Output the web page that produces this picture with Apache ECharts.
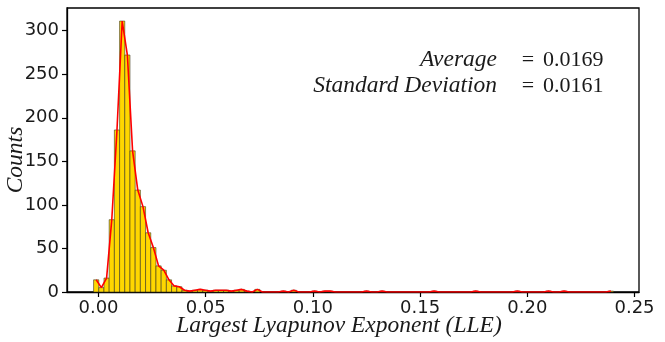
<!DOCTYPE html>
<html>
<head>
<meta charset="utf-8">
<script src="https://cdn.jsdelivr.net/npm/echarts@6/dist/echarts.min.js"></script>
<style>
  html, body { margin: 0; padding: 0; background: #fff; }
  #main { width: 665px; height: 342px; }
</style>
</head>
<body>
<div id="main"></div>
<script>
// histogram of LLE values, 100 equal bins
var binStart = -0.0023;
var binWidth = 0.002425;
var counts = [
  14, 5, 16, 83, 186, 311, 272, 162, 117, 98,
  68, 51, 30, 25, 14, 7, 6, 2, 1, 2,
  3, 2, 1, 2, 2, 2, 1, 2, 3, 1,
  0, 3, 0, 0, 0, 0, 1, 0, 2, 0,
  0, 0, 1, 0, 1, 1, 0, 0, 0, 0,
  0, 0, 1, 0, 0, 1, 0, 0, 0, 0,
  0, 0, 0, 0, 0, 1, 0, 0, 0, 0,
  0, 0, 0, 1, 0, 0, 0, 0, 0, 0,
  0, 1, 0, 0, 0, 0, 0, 1, 0, 0,
  1, 0, 0, 0, 0, 0, 0, 0, 0, 1
];
var xTicks = [0, 0.05, 0.10, 0.15, 0.20, 0.25];
var yTicks = [0, 50, 100, 150, 200, 250, 300];
var avgText = '0.0169';
var stdText = '0.0161';

var bars = [];
var line = [];
for (var i = 0; i < counts.length; i++) {
  var lo = binStart + i * binWidth;
  bars.push([lo, lo + binWidth, counts[i]]);
  line.push([lo + binWidth / 2, counts[i]]);
}

var chart = echarts.init(document.getElementById('main'), null, { renderer: 'canvas' });

var serif = '"Liberation Serif", "DejaVu Serif", serif';
var labFont = 'italic 23.5px ' + serif;
var numFont = '22px ' + serif;

var option = {
  animation: false,
  backgroundColor: '#fff',
  grid: {
    left: 67, right: 26, top: 8, bottom: 50,
    show: true,
    borderColor: '#000',
    borderWidth: 1.3,
    outerBoundsMode: 'none'
  },
  xAxis: {
    type: 'value',
    min: -0.0147,
    max: 0.2521,
    axisLine: { onZero: false, lineStyle: { color: '#000', width: 1.3 } },
    axisTick: { customValues: xTicks, length: 5, lineStyle: { color: '#000', width: 1.2 } },
    axisLabel: {
      customValues: xTicks,
      margin: 7,
      fontFamily: '"DejaVu Sans"',
      fontSize: 18,
      color: '#1a1a1a',
      formatter: function (v) { return v.toFixed(2); }
    },
    splitLine: { show: false }
  },
  yAxis: {
    type: 'value',
    min: 0,
    max: 326,
    axisLine: { show: true, onZero: false, lineStyle: { color: '#000', width: 1.3 } },
    axisTick: { show: true, customValues: yTicks, length: 5, lineStyle: { color: '#000', width: 1.2 } },
    axisLabel: {
      customValues: yTicks,
      margin: 8,
      fontFamily: '"DejaVu Sans"',
      fontSize: 18,
      color: '#1a1a1a'
    },
    splitLine: { show: false }
  },
  graphic: [
    {
      type: 'text', x: 339, y: 326,
      style: { text: 'Largest Lyapunov Exponent (LLE)', font: labFont, fill: '#1a1a1a', align: 'center', verticalAlign: 'middle' }
    },
    {
      type: 'text', x: 16, y: 160, rotation: Math.PI / 2,
      style: { text: 'Counts', font: labFont, fill: '#1a1a1a', align: 'center', verticalAlign: 'middle' }
    },
    {
      type: 'text', x: 497, y: 60,
      style: { text: 'Average', font: labFont, fill: '#1a1a1a', align: 'right', verticalAlign: 'middle' }
    },
    {
      type: 'text', x: 528, y: 60,
      style: { text: '=', font: numFont, fill: '#1a1a1a', align: 'center', verticalAlign: 'middle' }
    },
    {
      type: 'text', x: 543, y: 60,
      style: { text: avgText, font: numFont, fill: '#1a1a1a', align: 'left', verticalAlign: 'middle' }
    },
    {
      type: 'text', x: 497, y: 86,
      style: { text: 'Standard Deviation', font: labFont, fill: '#1a1a1a', align: 'right', verticalAlign: 'middle' }
    },
    {
      type: 'text', x: 528, y: 86,
      style: { text: '=', font: numFont, fill: '#1a1a1a', align: 'center', verticalAlign: 'middle' }
    },
    {
      type: 'text', x: 543, y: 86,
      style: { text: stdText, font: numFont, fill: '#1a1a1a', align: 'left', verticalAlign: 'middle' }
    }
  ],
  series: [
    {
      name: 'hist',
      type: 'custom',
      data: bars,
      encode: { x: [0, 1], y: 2 },
      renderItem: function (params, api) {
        if (!api.value(2)) return null;
        var p0 = api.coord([api.value(0), api.value(2)]);
        var p1 = api.coord([api.value(1), 0]);
        return {
          type: 'rect',
          shape: { x: p0[0], y: p0[1], width: p1[0] - p0[0], height: p1[1] - p0[1] },
          style: { fill: '#FFD700', stroke: 'rgba(60,55,30,0.75)', lineWidth: 0.8 }
        };
      },
      z: 2
    },
    {
      name: 'kde',
      type: 'line',
      data: line,
      showSymbol: false,
      symbol: 'none',
      lineStyle: { color: '#FF0000', width: 1.6 },
      z: 3
    }
  ]
};

chart.setOption(option);
</script>
</body>
</html>
